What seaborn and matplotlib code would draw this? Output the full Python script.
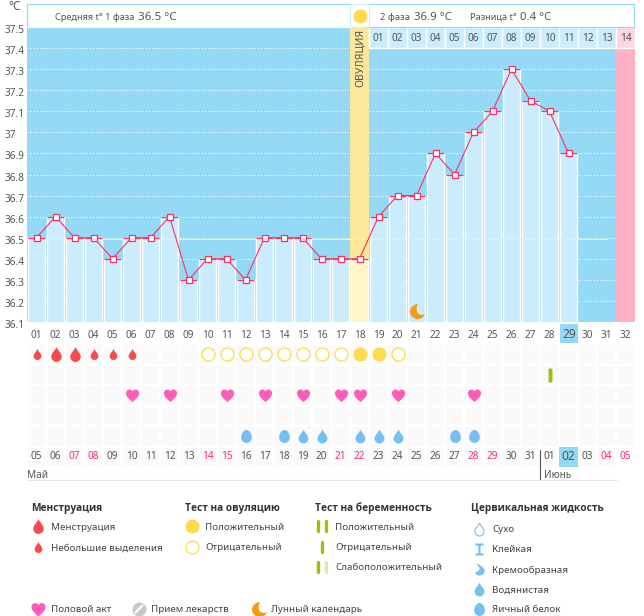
import numpy as np
import seaborn as sns
import matplotlib.pyplot as plt
from matplotlib.path import Path
from matplotlib.patches import Rectangle
from matplotlib.transforms import ScaledTranslation

# ---- data ----
days = list(range(1, 30))
temps = [36.5, 36.6, 36.5, 36.5, 36.4, 36.5, 36.5, 36.6, 36.3, 36.4, 36.4, 36.3, 36.5, 36.5, 36.5,
         36.4, 36.4, 36.4, 36.6, 36.7, 36.7, 36.9, 36.8, 37.0, 37.1, 37.3, 37.15, 37.1, 36.9]
phase = ["ovu" if d == 18 else "norm" for d in days]
ytick_vals = [37.5, 37.4, 37.3, 37.2, 37.1, 37.0, 36.9, 36.8, 36.7, 36.6, 36.5, 36.4, 36.3, 36.2, 36.1]
ytick_labels = ["37.5", "37.4", "37.3", "37.2", "37.1", "37", "36.9", "36.8", "36.7", "36.6", "36.5",
                "36.4", "36.3", "36.2", "36.1"]
cycle_days = list(range(1, 33))
post_labels = ["01", "02", "03", "04", "05", "06", "07", "08", "09", "10", "11", "12", "13", "14"]
dates = ["05", "06", "07", "08", "09", "10", "11", "12", "13", "14", "15", "16", "17", "18", "19", "20",
         "21", "22", "23", "24", "25", "26", "27", "28", "29", "30", "31", "01", "02", "03", "04", "05"]
weekend_idx = [2, 3, 9, 10, 16, 17, 23, 24, 30, 31]

flow_big = [2, 3]
flow_small = [1, 4, 5, 6]
ovu_neg = [10, 11, 12, 13, 14, 15, 16, 17, 20]
ovu_pos = [18, 19]
preg_neg = [28]
sex_days = [6, 8, 11, 13, 15, 17, 18, 20, 24]
cm_egg = [12, 14, 23, 24]
cm_water = [15, 16, 18, 19, 20]
moon_day = [21]
moon_temp = [36.15]

BLUE = "#94d9f5"
PALE = "#cbecfd"
PINK = "#ff2e63"
RED = "#fb4a4e"
YEL = "#fddb4e"
GREEN = "#9cc00c"
HEART = "#ff5cb8"
DROP = "#74c0f2"
ORANGE = "#f59a12"
TXT = "#555555"
DARK = "#444444"

sns.set_theme(style="white")
plt.rcParams["font.family"] = ["Noto Sans", "DejaVu Sans"]

W, H = 644, 616
fig = plt.figure(figsize=(W / 100, H / 100), dpi=100, facecolor="white")


def px_axes(l, t, r, b):
    return fig.add_axes([l / W, 1 - b / H, (r - l) / W, (b - t) / H])


def curve(start, *segs):
    verts, codes = [start], [Path.MOVETO]
    for s in segs:
        verts += list(s)
        codes += [Path.CURVE4] * 3
    return Path(verts, codes)


def px(n):
    # marker size for a glyph n pixels across
    return (n * 0.72) ** 2


drop_m = curve((0, 1), [(0.15, 0.55), (0.7, 0.2), (0.7, -0.3)], [(0.7, -0.7), (0.35, -1), (0, -1)],
               [(-0.35, -1), (-0.7, -0.7), (-0.7, -0.3)], [(-0.7, 0.2), (-0.15, 0.55), (0, 1)])
heart_m = curve((0, -1), [(-0.4, -0.65), (-1, -0.25), (-1, 0.35)], [(-1, 0.8), (-0.65, 0.92), (-0.45, 0.92)],
                [(-0.2, 0.92), (-0.05, 0.75), (0, 0.6)], [(0.05, 0.75), (0.2, 0.92), (0.45, 0.92)],
                [(0.65, 0.92), (1, 0.8), (1, 0.35)], [(1, -0.25), (0.4, -0.65), (0, -1)])
egg_m = curve((0, 1), [(0.5, 1), (0.82, 0.4), (0.82, -0.15)], [(0.82, -0.65), (0.45, -1), (0, -1)],
              [(-0.45, -1), (-0.82, -0.65), (-0.82, -0.15)], [(-0.82, 0.4), (-0.5, 1), (0, 1)])
moon_m = curve((0.05, 1), [(-0.6, 0.95), (-1, 0.45), (-1, 0)], [(-1, -0.55), (-0.55, -1), (0, -1)],
               [(0.45, -1), (0.85, -0.75), (1, -0.35)], [(0.6, -0.5), (0.1, -0.5), (-0.05, -0.05)],
               [(-0.2, 0.35), (-0.1, 0.75), (0.05, 1)])
pill_m = curve((-0.25, 0.75), [(-0.25, 0.95), (0.25, 0.95), (0.25, 0.75)], [(0.25, 0.3), (0.25, -0.3), (0.25, -0.75)],
               [(0.25, -0.95), (-0.25, -0.95), (-0.25, -0.75)], [(-0.25, -0.3), (-0.25, 0.3), (-0.25, 0.75)])
glass_m = Path([(-0.7, 1), (0.7, 1), (0.7, 0.75), (0.2, 0.6), (0.15, -0.6), (0.7, -0.75), (0.7, -1),
                (-0.7, -1), (-0.7, -0.75), (-0.15, -0.6), (-0.2, 0.6), (-0.7, 0.75), (-0.7, 1)])
cream_m = curve((-0.6, 1), [(-0.1, 0.9), (0.85, 0.35), (0.85, -0.25)], [(0.85, -0.7), (0.45, -1), (0, -1)],
                [(-0.35, -1), (-0.65, -0.8), (-0.75, -0.5)], [(-0.3, -0.35), (0.1, -0.1), (0, 0.2)],
                [(-0.05, 0.5), (-0.4, 0.8), (-0.6, 1)])

# ---- temperature chart ----
ax = px_axes(27, 27, 635, 322)
ax.set_facecolor(BLUE)
for v in ytick_vals[1:-1]:
    ax.axhline(v, color="white", lw=0.8, ls=(0, (1, 1.8)), zorder=1)
ax.axvspan(17.5, 18.5, color="#fde89a", lw=0, zorder=1.5)
ax.axvspan(31.5, 32.5, color="#fdb0c6", lw=0, zorder=1.5)

sns.barplot(x=days, y=temps, hue=phase, palette={"norm": PALE, "ovu": "#fef6c8"}, native_scale=True,
            dodge=False, width=0.94, saturation=1, legend=False, zorder=2, ax=ax)
ax.plot([0.5, 31.0], [36.495, 36.495], color="#fff0a0", lw=0.8, zorder=2.2)

# second phase day numbers along the top
for i, lab in enumerate(post_labels):
    d = 19 + i
    ax.bar(d, 0.1, 0.95, bottom=37.4, color="#fdd5e3" if d == 32 else PALE, zorder=2.5)
    ax.text(d, 37.445, lab, ha="center", va="center", fontsize=7.2, color=TXT, zorder=3)
ax.text(18.04, 37.355, "ОВУЛЯЦИЯ", rotation=90, ha="center", va="center", fontsize=7.6, color=TXT, zorder=3)

ax.hlines(temps, np.array(days) - 0.47, np.array(days) + 0.47, color=PINK, lw=0.9, zorder=3)
sns.lineplot(x=days, y=temps, color=PINK, lw=0.8, marker="s", markersize=4.2, markerfacecolor="white",
             markeredgecolor=PINK, markeredgewidth=0.9, estimator=None, zorder=4, ax=ax)
sns.scatterplot(x=moon_day, y=moon_temp, marker=moon_m, s=px(15), color=ORANGE, linewidth=0, zorder=4, ax=ax)

ax.set_xlim(0.5, 32.5)
ax.set_ylim(36.1, 37.5)
ax.set_xlabel("")
ax.set_ylabel("")
ax.set_xticks(cycle_days)
ax.set_xticklabels(["%02d" % d if d != 29 else "" for d in cycle_days], fontsize=7.2, color=TXT)
ax.set_yticks(ytick_vals)
ax.set_yticklabels(ytick_labels, fontsize=7.2, color=TXT)
ax.tick_params(axis="x", length=0, pad=5.6)
ax.tick_params(axis="y", length=0, pad=16.5)
shift = ScaledTranslation(0, -2 / 100, fig.dpi_scale_trans)
for t in ax.get_yticklabels():
    t.set_ha("left")
    t.set_transform(t.get_transform() + shift)
sns.despine(ax=ax, left=True, bottom=True)

# ---- symptom rows and dates ----
ax2 = px_axes(27, 344, 635, 467)
cells = np.zeros((6, 32))
mask = np.zeros((6, 32), dtype=bool)
mask[5, 31] = True
sns.heatmap(cells, mask=mask, vmin=0, vmax=1, cmap=["#fbfafb"], cbar=False, linewidths=1.2, linecolor="white",
            xticklabels=False, yticklabels=False, ax=ax2)


def row_marks(day_list, row, marker, size, color):
    sns.scatterplot(x=np.array(day_list) - 0.5, y=[row + 0.5] * len(day_list), marker=marker, s=px(size),
                    color=color, linewidth=0, zorder=3, ax=ax2)


row_marks(flow_big, 0, drop_m, 15, RED)
row_marks(flow_small, 0, drop_m, 11, RED)
row_marks(ovu_pos, 0, "o", 14, YEL)
ax2.scatter(np.array(ovu_neg) - 0.5, [0.5] * len(ovu_neg), marker="o", s=px(13), facecolors="white",
            edgecolors=YEL, linewidths=0.9, zorder=3)
row_marks(preg_neg, 1, pill_m, 15, GREEN)
row_marks(sex_days, 2, heart_m, 13, HEART)
row_marks(cm_egg, 4, egg_m, 13, DROP)
row_marks(cm_water, 4, drop_m, 14, DROP)
ax2.add_patch(Rectangle((28, 5), 1, 1, color=BLUE, lw=0, zorder=2))
for i, lab in enumerate(dates):
    big = i == 28
    ax2.text(i + 0.5, 5.5, lab, ha="center", va="center", fontsize=8.6 if big else 7.2,
             color=PINK if i in weekend_idx else TXT, zorder=4)
ax2.set_xlim(0, 32)
ax2.set_ylim(6, 0)
ax2.set_xlabel("")
ax2.set_ylabel("")

# ---- overlay in pixel units: header, legend ----
ov = fig.add_axes([0, 0, 1, 1], facecolor="none")
ov.set_xlim(0, W)
ov.set_ylim(H, 0)
ov.axis("off")

ov.add_patch(Rectangle((27.5, 3.5), 607, 23.5, fc="white", ec=BLUE, lw=0.8, zorder=1))
ov.add_patch(Rectangle((350.5, 3.5), 19, 23.5, fc="white", ec="#cdeefb", lw=0.8, zorder=1.5))
ov.plot([369.5, 634.5], [27, 27], color=BLUE, lw=0.8, zorder=2)
ov.plot([27.5, 350], [27, 27], color="white", lw=0.8, zorder=2)
ov.scatter([360], [16], marker="o", s=px(14), color=YEL, linewidths=0, zorder=3)
for x, s, fs in [(55, "Средняя t° 1 фаза", 6.6), (138, "36.5 °C", 8.4), (380, "2 фаза", 6.8), (414, "36.9 °C", 8.2),
                 (470, "Разница t°", 6.6), (520, "0.4 °C", 8.2)]:
    ov.text(x, 17, s, fontsize=fs, color=TXT, va="center", ha="left", zorder=3)
ov.text(8, 7, "°C", fontsize=8.6, color=TXT, va="center", ha="left")

# highlighted day of the cycle
ov.add_patch(Rectangle((560, 324), 18, 19, fc=BLUE, lw=0, zorder=3))
ov.text(569, 334, "29", fontsize=8.6, color=TXT, ha="center", va="center", zorder=4)

ov.plot([27, 617], [479.5, 479.5], color="#e8e8e8", lw=0.8)
ov.plot([540.5, 540.5], [450, 479], color=TXT, lw=0.8)
ov.text(27, 475, "Май", fontsize=7.2, color=TXT, va="center")
ov.text(544, 475, "Июнь", fontsize=7.2, color=TXT, va="center")

LEG = 7.0
for x, s in [(31, "Менструация"), (185, "Тест на овуляцию"), (315, "Тест на беременность"),
             (471, "Цервикальная жидкость")]:
    ov.text(x, 508, s, fontsize=7.3, fontweight="bold", family=["Open Sans", "DejaVu Sans"], color="#333333",
            va="center")


def leg_text(x, y, s):
    ov.text(x, y + 1, s, fontsize=LEG, color=DARK, va="center")


def leg_mark(x, y, marker, size, color):
    ov.scatter([x], [y], marker=marker, s=px(size), color=color, linewidths=0)


def leg_stick(x, y, color):
    ov.plot([x, x], [y - 5, y + 5], color=color, lw=2.4, solid_capstyle="round")


leg_mark(38.5, 526, drop_m, 15, RED)
leg_text(51, 526, "Менструация")
leg_mark(38.5, 547, drop_m, 11, RED)
leg_text(51, 547, "Небольшие выделения")

leg_mark(192, 526, "o", 14, YEL)
leg_text(205, 526, "Положительный")
ov.scatter([192], [547], marker="o", s=px(13), facecolors="white", edgecolors=YEL, linewidths=0.9)
leg_text(205, 547, "Отрицательный")

leg_stick(318.5, 526, GREEN)
leg_stick(326.5, 526, GREEN)
leg_text(335, 526, "Положительный")
leg_stick(322.5, 547, GREEN)
leg_text(335, 547, "Отрицательный")
leg_stick(318.5, 567, GREEN)
leg_stick(326.5, 567, "#dbe8b0")
leg_text(335, 567, "Слабоположительный")

ov.scatter([479], [529], marker=drop_m, s=px(13), facecolors="white", edgecolors=DROP, linewidths=0.8)
leg_text(492, 528, "Сухо")
leg_mark(479, 549, glass_m, 12, DROP)
leg_text(492, 549, "Клейкая")
leg_mark(479, 569, cream_m, 12, DROP)
leg_text(492, 569, "Кремообразная")
leg_mark(479, 589, drop_m, 14, DROP)
leg_text(492, 589, "Водянистая")
leg_mark(479, 609, egg_m, 13, DROP)
leg_text(492, 609, "Яичный белок")

leg_mark(38, 609, heart_m, 14, HEART)
leg_text(51, 609, "Половой акт")
leg_mark(139, 609, "o", 14, "#c8c8c8")
ov.plot([135.5, 142.5], [612.5, 605.5], color="white", lw=1.6)
leg_text(151, 609, "Прием лекарств")
leg_mark(259, 609, moon_m, 15, ORANGE)
leg_text(271, 609, "Лунный календарь")

fig.savefig("out.png", dpi=100)
